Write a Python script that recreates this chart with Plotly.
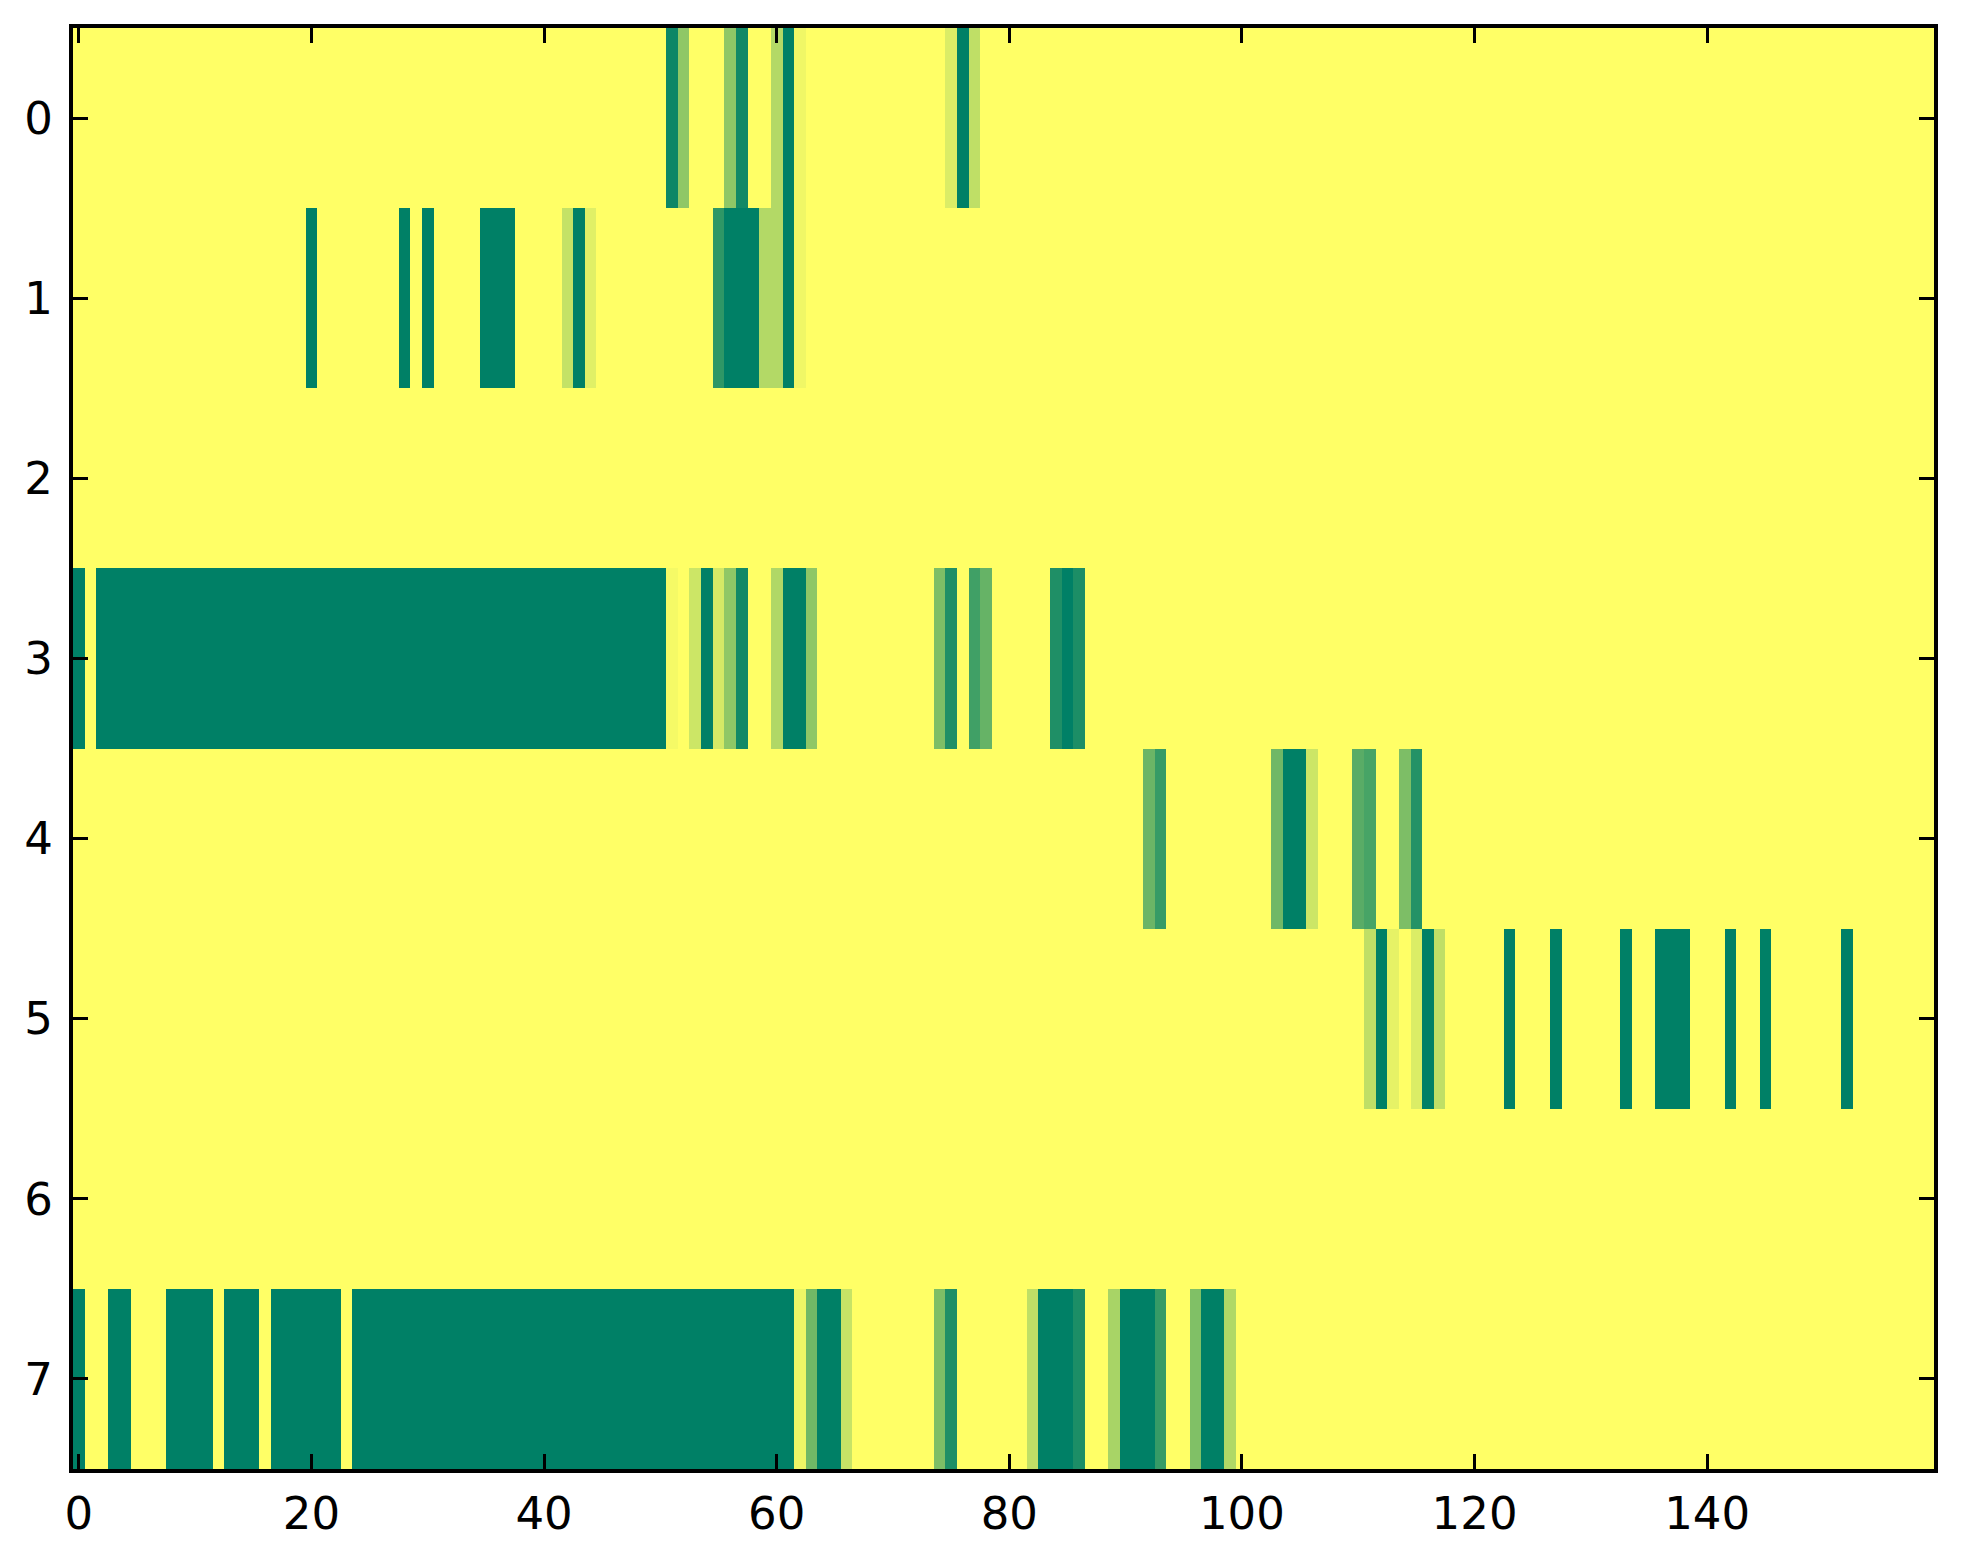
import numpy as np
import plotly.graph_objects as go

n_cols = 160
row_labels = [0, 1, 2, 3, 4, 5, 6, 7]
x_ticks = [0, 20, 40, 60, 80, 100, 120, 140]

# (first column, last column, value) runs; all else is 0
row_0 = [(51, 51, 0.95), (52, 52, 0.44), (56, 56, 0.44), (57, 57, 0.93),
         (60, 60, 0.30), (61, 61, 1.0), (62, 62, 0.06),
         (75, 75, 0.14), (76, 76, 1.0), (77, 77, 0.25)]
row_1 = [(20, 20, 1.0), (28, 28, 1.0), (30, 30, 1.0), (35, 37, 1.0),
         (42, 42, 0.23), (43, 43, 1.0), (44, 44, 0.12),
         (55, 55, 0.82), (56, 58, 1.0), (59, 60, 0.30), (61, 61, 1.0),
         (62, 62, 0.06)]
row_2 = []
row_3 = [(0, 0, 1.0), (2, 50, 1.0), (51, 51, 0.04), (53, 53, 0.20),
         (54, 54, 1.0), (55, 55, 0.17), (56, 56, 0.44), (57, 57, 0.93),
         (60, 60, 0.31), (61, 62, 1.0), (63, 63, 0.44),
         (74, 74, 0.51), (75, 75, 0.88), (77, 77, 0.75), (78, 78, 0.60),
         (84, 84, 0.88), (85, 85, 1.0), (86, 86, 0.89)]
row_4 = [(92, 92, 0.58), (93, 93, 0.79), (103, 103, 0.56), (104, 105, 1.0),
         (106, 106, 0.20), (110, 110, 0.65), (111, 111, 0.72),
         (114, 114, 0.51), (115, 115, 0.86)]
row_5 = [(111, 111, 0.25), (112, 112, 1.0), (113, 113, 0.10),
         (115, 115, 0.14), (116, 116, 1.0), (117, 117, 0.25),
         (123, 123, 1.0), (127, 127, 1.0), (133, 133, 1.0), (136, 138, 1.0),
         (142, 142, 1.0), (145, 145, 1.0), (152, 152, 1.0)]
row_6 = []
row_7 = [(0, 0, 1.0), (3, 4, 1.0), (8, 11, 1.0), (13, 15, 1.0),
         (17, 22, 1.0), (24, 61, 1.0), (62, 62, 0.07), (63, 63, 0.56),
         (64, 65, 1.0), (66, 66, 0.22), (74, 74, 0.51), (75, 75, 0.88),
         (82, 82, 0.25), (83, 85, 1.0), (86, 86, 0.89), (89, 89, 0.34),
         (90, 92, 1.0), (93, 93, 0.79), (96, 96, 0.50), (97, 98, 1.0),
         (99, 99, 0.31)]

rows = [row_0, row_1, row_2, row_3, row_4, row_5, row_6, row_7]

z = np.zeros((len(rows), n_cols))
for r, runs in enumerate(rows):
    for a, b, v in runs:
        z[r, a:b + 1] = v

# matplotlib summer_r
summer_r = [[0.0, "rgb(255,255,102)"], [1.0, "rgb(0,128,102)"]]

fig = go.Figure(
    go.Heatmap(
        z=z,
        x=list(range(n_cols)),
        y=row_labels,
        colorscale=summer_r,
        zmin=0,
        zmax=1,
        showscale=False,
        hoverongaps=False,
    )
)

axis_style = dict(
    showline=True,
    linecolor="black",
    linewidth=4,
    mirror="allticks",
    ticks="inside",
    ticklen=15,
    tickwidth=3,
    tickcolor="black",
    showgrid=False,
    zeroline=False,
    automargin=False,
    tickfont=dict(family="DejaVu Sans", size=45, color="black"),
)

fig.update_xaxes(
    range=[-0.5, n_cols - 0.5],
    tickvals=x_ticks,
    ticklabelstandoff=2,
    **axis_style,
)
fig.update_yaxes(
    range=[7.5, -0.5],
    tickvals=row_labels,
    ticklabelstandoff=7,
    **axis_style,
)

# page body has an 8px margin, so the figure is a bit smaller than the window
fig.update_layout(
    width=1947,
    height=1548,
    margin=dict(l=65, r=21, t=20, b=87),
    paper_bgcolor="white",
    plot_bgcolor="white",
)

fig.write_html("out.html")
